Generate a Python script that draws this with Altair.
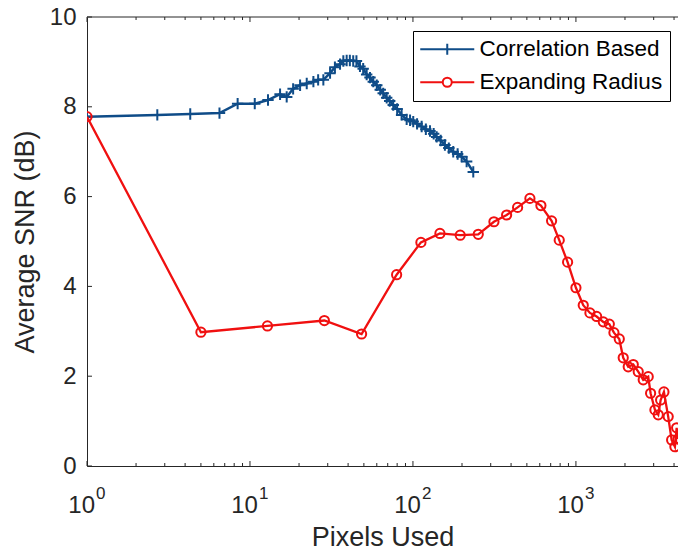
import altair as alt
import pandas as pd

# ---- data ----
corr_x = [1, 2.7, 4.3, 6.5, 8.4, 10.7, 12.9, 15.3, 16.8, 18.4, 20.3, 22.3, 24.5, 26.2,
          28.2, 31.0, 33.2, 35.7, 37.4, 39.2, 41.0, 43.0, 45.0, 47.3, 49.5, 52.0, 54.5,
          57.1, 60.0, 63.0, 65.7, 69.0, 72.0, 75.7, 80.0, 85.2, 91.5, 96.0, 100.4, 106.0,
          113.1, 120.0, 127.2, 134.0, 139.8, 148.0, 157.1, 166.0, 176.7, 188.0, 199.0,
          213.5, 234.5]
corr_y = [7.78, 7.82, 7.84, 7.86, 8.07, 8.07, 8.15, 8.28, 8.22, 8.40, 8.48, 8.52, 8.56, 8.60,
          8.60, 8.75, 8.88, 8.95, 9.02, 9.03, 9.03, 9.02, 9.02, 8.90, 8.85, 8.72, 8.65,
          8.56, 8.48, 8.38, 8.30, 8.20, 8.13, 8.04, 7.95, 7.82, 7.72, 7.70, 7.67, 7.62,
          7.56, 7.50, 7.46, 7.40, 7.33, 7.25, 7.15, 7.08, 7.00, 6.95, 6.89,
          6.78, 6.55]

exp_x = [1, 5, 12.8, 28.6, 48.4, 79.4, 111.9, 146.4, 195, 251.6, 314, 375.6, 438.7, 522,
         609.7, 709, 790, 889, 1000, 1109, 1219, 1340, 1472, 1603, 1711, 1845, 1951, 2094,
         2248, 2412, 2588, 2777, 2872, 3053, 3200, 3310, 3467, 3683, 3866, 4049, 4150, 4230]
exp_y = [7.78, 2.98, 3.12, 3.24, 2.94, 4.26, 4.98, 5.18, 5.14, 5.16, 5.44, 5.59, 5.76, 5.96,
         5.80, 5.46, 5.03, 4.54, 3.97, 3.58, 3.41, 3.33, 3.21, 3.16, 2.97, 2.83, 2.41, 2.21,
         2.26, 2.10, 1.92, 1.99, 1.62, 1.25, 1.14, 1.47, 1.65, 1.10, 0.58, 0.43, 0.85, 0.60]

series_names = ["Correlation Based", "Expanding Radius"]
series_colors = ["#0F4C88", "#F01010"]

x_domain = [1, 4230]
y_domain = [0, 10]
x_major = [1, 10, 100, 1000]
x_major_exp = ["0", "1", "2", "3"]
x_minor = [m * d for d in [1, 10, 100, 1000] for m in range(2, 10) if m * d < 4230]
y_major = [0, 2, 4, 6, 8, 10]

W, H = 591, 449
TXT = "#262626"
FONT = "Liberation Sans"
TICK_FS = 24
TITLE_FS = 27

df = pd.DataFrame(
    {"x": corr_x + exp_x,
     "y": corr_y + exp_y,
     "series": [series_names[0]] * len(corr_x) + [series_names[1]] * len(exp_x)}
)
df_corr = df[df.series == series_names[0]]
df_exp = df[df.series == series_names[1]]

xs = alt.Scale(type="log", domain=x_domain, nice=False)
ys = alt.Scale(domain=y_domain, nice=False)

x_enc = alt.X("x:Q", scale=xs, title="Pixels Used",
              axis=alt.Axis(values=x_major, ticks=False, grid=False, domain=True, labels=False,
                            domainColor=TXT,
                            titleFontSize=TITLE_FS, titleFont=FONT, titleColor=TXT,
                            titleFontWeight="normal", titlePadding=58))
y_enc = alt.Y("y:Q", scale=ys, title="Average SNR (dB)",
              axis=alt.Axis(values=y_major, ticks=False, grid=False, domain=True,
                            domainColor=TXT, labelColor=TXT, labelFontSize=TICK_FS, labelFont=FONT,
                            labelPadding=11,
                            titleFontSize=TITLE_FS, titleFont=FONT, titleColor=TXT,
                            titleFontWeight="normal", titlePadding=10))

color_scale = alt.Scale(domain=series_names, range=series_colors)

blue_line = alt.Chart(df_corr).mark_line(strokeWidth=2.5, color=series_colors[0], clip=True).encode(
    x=x_enc, y=y_enc)
blue_pts = alt.Chart(df_corr).mark_point(shape="M-1,0H1M0,-1V1", size=130, strokeWidth=2,
                                         filled=False, color=series_colors[0], opacity=1,
                                         clip=True).encode(x="x:Q", y="y:Q")
red_line = alt.Chart(df_exp).mark_line(strokeWidth=2.3, color=series_colors[1], clip=True).encode(
    x="x:Q", y="y:Q")
red_pts = alt.Chart(df_exp).mark_point(shape="circle", size=85, strokeWidth=2,
                                       filled=False, color=series_colors[1], opacity=1,
                                       clip=True).encode(x="x:Q", y="y:Q")

# inward axis ticks (MATLAB style)
px_y = (y_domain[1] - y_domain[0]) / H
maj_len, min_len = 5 * px_y, 3 * px_y
tick_rows = []
for v in x_major:
    tick_rows.append({"x": v, "y": 0, "y2": maj_len})
    tick_rows.append({"x": v, "y": 10, "y2": 10 - maj_len})
for v in x_minor:
    tick_rows.append({"x": v, "y": 0, "y2": min_len})
    tick_rows.append({"x": v, "y": 10, "y2": 10 - min_len})
ticks_x = alt.Chart(pd.DataFrame(tick_rows)).mark_rule(color=TXT, strokeWidth=1).encode(
    x="x:Q", y="y:Q", y2="y2:Q")
x_tick_end = 10 ** (5 * 3.626 / W)
ticks_y = alt.Chart(pd.DataFrame({"x": [1] * len(y_major), "x2": [x_tick_end] * len(y_major),
                                  "y": y_major})).mark_rule(color=TXT, strokeWidth=1).encode(
    x="x:Q", x2="x2:Q", y="y:Q")
top_line = alt.Chart(pd.DataFrame({"x": [x_domain[0]], "x2": [x_domain[1]], "y": [10]})).mark_rule(
    color=TXT, strokeWidth=1).encode(x="x:Q", x2="x2:Q", y="y:Q")

# x tick labels as 10 with superscript exponent
lab_df = pd.DataFrame({"x": x_major, "y": [0] * len(x_major), "base": ["10"] * len(x_major),
                       "exp": x_major_exp})
lab_base = alt.Chart(lab_df).mark_text(align="right", baseline="alphabetic", dx=8, dy=47,
                                       fontSize=TICK_FS, font=FONT, color=TXT).encode(
    x="x:Q", y="y:Q", text="base:N")
lab_exp = alt.Chart(lab_df).mark_text(align="left", baseline="alphabetic", dx=9, dy=33,
                                      fontSize=17, font=FONT, color=TXT).encode(
    x="x:Q", y="y:Q", text="exp:N")

# invisible layer that only provides the legend (line + marker symbols)
legend_paths = ["M-6,0H6M0,-1.2V1.2",
                "M-6,0H-1M1,0H6M-1,0A1,1 0 1 1 1,0A1,1 0 1 1 -1,0"]
legend_layer = alt.Chart(df).mark_point(opacity=0, filled=False).encode(
    x="x:Q", y="y:Q",
    stroke=alt.Stroke("series:N", scale=color_scale,
                      legend=alt.Legend(orient="none", legendX=326, legendY=14, title=None,
                                        strokeColor="black", fillColor="white", padding=7,
                                        symbolSize=81, symbolStrokeWidth=2, symbolOpacity=1,
                                        symbolFillColor="transparent",
                                        symbolOffset=16, labelOffset=21,
                                        labelFontSize=22.5, labelFont=FONT, labelColor="black",
                                        rowPadding=10, labelLimit=400)),
    shape=alt.Shape("series:N", scale=alt.Scale(domain=series_names, range=legend_paths)),
)

chart = alt.layer(blue_line, blue_pts, red_line, red_pts, ticks_x, ticks_y, top_line,
                  lab_base, lab_exp, legend_layer).properties(
    width=W, height=H,
    autosize=alt.AutoSizeParams(type="none"),
    padding={"left": 87, "top": 17, "right": 0, "bottom": 84},
    background="white",
).configure_view(stroke=None)

chart.save("out.html", embed_options={"renderer": "svg", "actions": False})
